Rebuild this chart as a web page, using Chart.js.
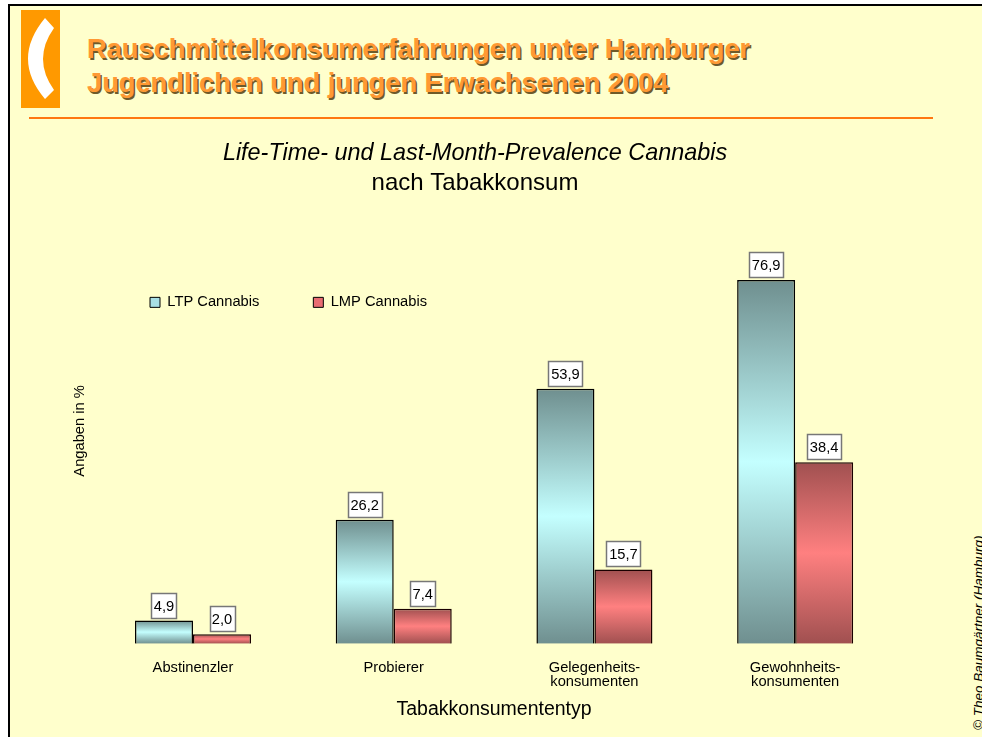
<!DOCTYPE html>
<html lang="de">
<head>
<meta charset="utf-8">
<title>Rauschmittelkonsumerfahrungen</title>
<script src="https://cdn.jsdelivr.net/npm/chart.js@4"></script>
<style>
html,body{margin:0;padding:0;background:#fff;width:982px;height:737px;overflow:hidden;font-family:"Liberation Sans",Arial,sans-serif}
#slide{position:absolute;left:8px;top:4px;width:974px;height:733px;background:#ffffcc;border-left:2px solid #000;border-top:2px solid #000;box-sizing:border-box}
#logo{position:absolute;left:21px;top:10px}
#head{position:absolute;left:87px;top:32px;font:bold 27.25px/34px "Liberation Sans",Arial,sans-serif;color:#ff9933;text-shadow:1.5px 1.5px 0 #6e5a2a;white-space:nowrap}
#rule{position:absolute;left:29px;top:117px;width:904px;height:2px;background:#ff7711}
#copy{position:absolute;left:978px;top:730px;transform-origin:0 0;transform:rotate(-90deg) translateY(-50%);font:italic 13.5px "Liberation Sans",Arial,sans-serif;color:#000;white-space:nowrap}
canvas{position:absolute;left:0;top:0}
</style>
</head>
<body>
<div id="slide"></div>
<svg id="logo" width="39" height="98" viewBox="21 10 39 98"><rect x="21" y="10" width="39" height="98" fill="#ff9900"/><path d="M45,18 L54,28 Q32,59 54,90 L45,99 Q11,59 45,18Z" fill="#fff"/></svg>
<div id="head">Rauschmittelkonsumerfahrungen unter Hamburger<br>Jugendlichen und jungen Erwachsenen 2004</div>
<div id="rule"></div>
<div id="copy">© Theo Baumgärtner (Hamburg)</div>
<canvas id="c" width="982" height="737"></canvas>
<script>
const categories = ["Abstinenzler", "Probierer", ["Gelegenheits-", "konsumenten"], ["Gewohnheits-", "konsumenten"]];
const ltpValues = [4.9, 26.2, 53.9, 76.9];
const lmpValues = [2.0, 7.4, 15.7, 38.4];
const seriesNames = ["LTP Cannabis", "LMP Cannabis"];
const titleText = "Life-Time- und Last-Month-Prevalence Cannabis";
const subtitleText = "nach Tabakkonsum";
const xAxisTitle = "Tabakkonsumententyp";
const yAxisTitle = "Angaben in %";
const legendColours = ['#a8dfe4', '#e96d72'];

function barGradient(edge, centre) {
  return function (ctx) {
    const scale = ctx.chart.scales.y;
    if (!scale) return edge;
    const top = scale.getPixelForValue(ctx.dataset.data[ctx.dataIndex]);
    const base = scale.getPixelForValue(0);
    if (!isFinite(top) || !isFinite(base)) return edge;
    const g = ctx.chart.ctx.createLinearGradient(0, top, 0, base);
    g.addColorStop(0, edge);
    g.addColorStop(0.5, centre);
    g.addColorStop(1, edge);
    return g;
  };
}

const placement = {
  id: 'placement',
  afterLayout(chart) {
    chart.legend.left = 96;
    chart.legend.right = 600;
    chart.legend.top = 241;
    chart.legend.bottom = 400;
    chart.boxes.forEach(b => {
      if (b.options && b.options.text !== undefined && b !== chart.legend) {
        b.left = 0;
        b.right = 950;
      }
    });
  }
};

const valueLabels = {
  id: 'valueLabels',
  afterDatasetsDraw(chart) {
    const c = chart.ctx;
    c.save();
    c.font = '14.7px "Liberation Sans", Arial, sans-serif';
    c.textAlign = 'center';
    c.textBaseline = 'middle';
    chart.data.datasets.forEach((ds, i) => {
      chart.getDatasetMeta(i).data.forEach((bar, j) => {
        const text = ds.data[j].toFixed(1).replace('.', ',');
        const w = Math.round(c.measureText(text).width) + 5;
        const h = 25;
        const x = Math.round(bar.x - w / 2) + 0.5;
        const y = Math.round(bar.y) - 2.5 - h;
        c.fillStyle = '#fff';
        c.strokeStyle = '#777';
        c.lineWidth = 1.5;
        c.fillRect(x, y, w, h);
        c.strokeRect(x, y, w, h);
        c.fillStyle = '#000';
        c.fillText(text, bar.x, y + h / 2 + 1);
      });
    });
    c.restore();
  }
};

new Chart(document.getElementById('c'), {
  type: 'bar',
  data: {
    labels: categories,
    datasets: [
      { label: seriesNames[0], data: ltpValues,
        backgroundColor: barGradient('#6f8f8f', '#c4ffff'),
        borderColor: '#000', borderWidth: 1.5 },
      { label: seriesNames[1], data: lmpValues,
        backgroundColor: barGradient('#a05050', '#ff8080'),
        borderColor: '#1a0000', borderWidth: 1.5 }
    ]
  },
  plugins: [placement, valueLabels],
  options: {
    responsive: false,
    animation: false,
    events: [],
    layout: { padding: { left: 71, right: 86.5, top: 61, bottom: 16 } },
    datasets: { bar: { categoryPercentage: 0.578, barPercentage: 1 } },
    scales: {
      x: {
        grid: { display: false, drawTicks: false },
        border: { display: false },
        ticks: { color: '#000', maxRotation: 0, autoSkip: false, padding: 17,
                 font: { family: '"Liberation Sans", Arial, sans-serif', size: 14.7, lineHeight: 0.95 } },
        title: { display: true, text: xAxisTitle, color: '#000', padding: { top: -8, bottom: 0 },
                 font: { family: '"Liberation Sans", Arial, sans-serif', size: 19.5 } }
      },
      y: {
        min: 0, max: 90,
        grid: { display: false, drawTicks: false },
        border: { display: false },
        ticks: { display: false },
        title: { display: true, text: yAxisTitle, color: '#000', padding: { top: 0, bottom: 4 },
                 font: { family: '"Liberation Sans", Arial, sans-serif', size: 14.7 } }
      }
    },
    plugins: {
      tooltip: { enabled: false },
      legend: {
        display: true, position: 'top', align: 'start', weight: 3000,
        labels: { boxWidth: 10, boxHeight: 10, padding: 54, color: '#000',
                  font: { family: '"Liberation Sans", Arial, sans-serif', size: 14.7 },
                  generateLabels(chart) {
                    const items = Chart.defaults.plugins.legend.labels.generateLabels(chart);
                    items.forEach((item, i) => { item.fillStyle = legendColours[i]; item.strokeStyle = '#000'; item.lineWidth = 1; });
                    return items;
                  } }
      },
      title: {
        display: true, text: titleText, color: '#000', padding: { top: 0, bottom: 1.5 },
        font: { family: '"Liberation Sans", Arial, sans-serif', size: 23.4, style: 'italic', weight: 'normal' }
      },
      subtitle: {
        display: true, text: subtitleText, color: '#000', padding: { top: 0, bottom: 20.1 },
        font: { family: '"Liberation Sans", Arial, sans-serif', size: 24, weight: 'normal' }
      }
    }
  }
});
</script>
</body>
</html>
